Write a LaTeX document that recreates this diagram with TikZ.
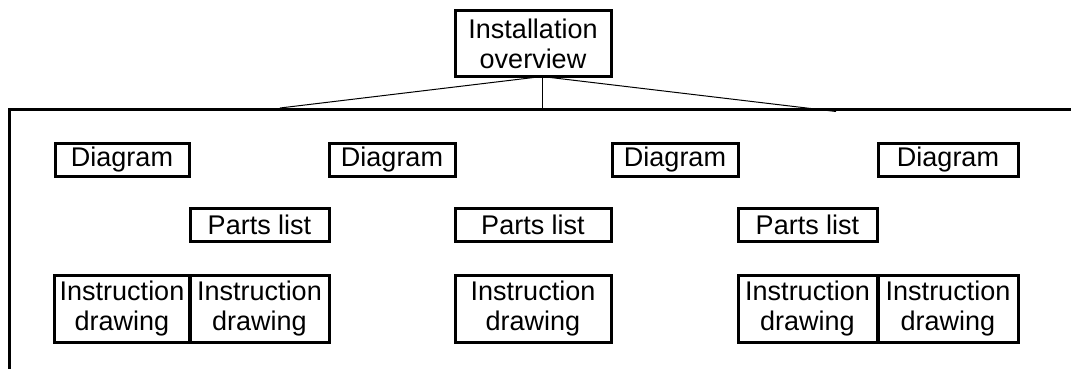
\documentclass[tikz,border=0pt]{standalone}
\usepackage{fontspec}
\setmainfont{Liberation Sans}
\begin{document}
\begin{tikzpicture}[x=1pt,y=-1pt,
  box/.style={draw=black, line width=3pt, inner sep=0pt, align=center,
    font=\fontsize{27}{30}\selectfont},
  dbox/.style={box, minimum height=33pt},
  tbox/.style={box, minimum height=67pt},
  thinline/.style={draw=black, line width=1pt},
  mainline/.style={draw=black, line width=3pt}]
\useasboundingbox (0,0) rectangle (1071,369);
% top node
\node[box, minimum width=156pt, minimum height=66pt] (top) at (533,43.5) {Installation\\overview};
% main line
\coordinate (vb) at (9.5,369);
\coordinate (hl) at (9.5,109.5);
\coordinate (hr) at (1071,109.5);
\draw[mainline] (vb) -- (hl) -- (hr);
% connectors from top
\coordinate (cv) at (542,76.5);
\coordinate (lend) at (280,108);
\coordinate (rend) at (836,111.5);
\draw[thinline] (cv) -- (lend);
\draw[thinline] (cv) -- (rend);
\draw[thinline] (cv) -- (cv |- hl);
% Diagram row
\node[dbox, minimum width=134pt] (d1) at (122,159.5) {Diagram};
\node[dbox, minimum width=126pt] (d2) at (392,159.5) {Diagram};
\node[dbox, minimum width=126pt] (d3) at (675,159.5) {Diagram};
\node[dbox, minimum width=140pt] (d4) at (948,159.5) {Diagram};
% Parts list row
\node[dbox, minimum width=139pt] (p1) at (259.5,225) {Parts list};
\node[dbox, minimum width=156pt] (p2) at (533,225) {Parts list};
\node[dbox, minimum width=139pt] (p3) at (807.5,225) {Parts list};
% Instruction drawing row
\node[tbox, minimum width=135pt] (i1) at (122,309) {Instruction\\drawing};
\node[tbox, minimum width=139pt] (i2) at (259.5,309) {Instruction\\drawing};
\node[tbox, minimum width=156pt] (i3) at (533,309) {Instruction\\drawing};
\node[tbox, minimum width=139pt] (i4) at (807.5,309) {Instruction\\drawing};
\node[tbox, minimum width=140pt] (i5) at (948,309) {Instruction\\drawing};
\end{tikzpicture}
\end{document}
